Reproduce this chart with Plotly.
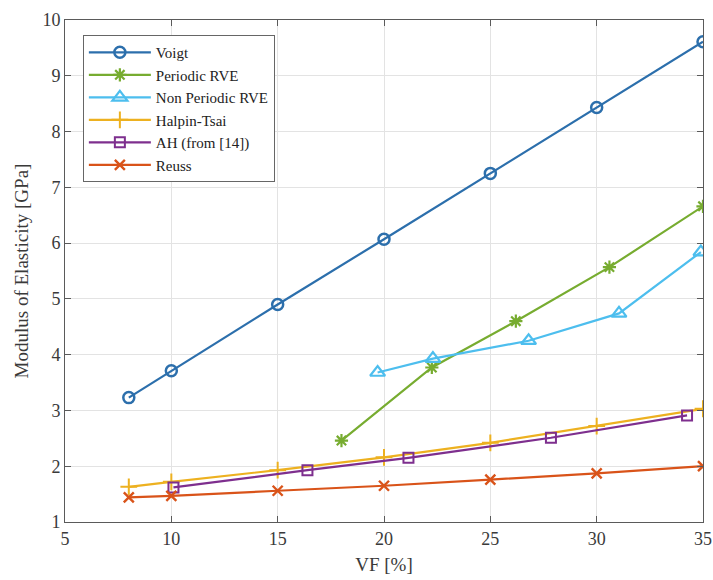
import plotly.graph_objects as go

# Data
voigt_x = [8, 10, 15, 20, 25, 30, 35]
voigt_y = [3.23, 3.71, 4.9, 6.07, 7.25, 8.43, 9.61]

periodic_x = [18.0, 22.25, 26.2, 30.6, 35.0]
periodic_y = [2.46, 3.77, 4.6, 5.57, 6.66]

nonper_x = [19.7, 22.3, 26.8, 31.05, 34.9]
nonper_y = [3.68, 3.93, 4.25, 4.74, 5.84]

halpin_x = [8, 10, 15, 20, 25, 30, 35]
halpin_y = [1.63, 1.72, 1.93, 2.16, 2.42, 2.72, 3.03]

ah_x = [10.1, 16.4, 21.15, 27.85, 34.25]
ah_y = [1.62, 1.93, 2.15, 2.51, 2.91]

reuss_x = [8, 10, 15, 20, 25, 30, 35]
reuss_y = [1.44, 1.47, 1.56, 1.65, 1.76, 1.87, 2.0]

series = [
    ("Voigt", voigt_x, voigt_y, "#2C6FAC", "circle-open", 11, 2.5),
    ("Periodic RVE", periodic_x, periodic_y, "#77AC30", "asterisk-open", 11, 2.2),
    ("Non Periodic RVE", nonper_x, nonper_y, "#4DBEEE", "triangle-up-open", 13, 2.2),
    ("Halpin-Tsai", halpin_x, halpin_y, "#EDB120", "cross-thin-open", 12, 2.0),
    ("AH (from [14])", ah_x, ah_y, "#7E2F8E", "square-open", 10, 2.0),
    ("Reuss", reuss_x, reuss_y, "#D95319", "x-thin-open", 10, 2.4),
]

fig = go.Figure()
for name, xs, ys, col, sym, size, lw in series:
    fig.add_trace(go.Scatter(
        x=xs, y=ys, name=name, mode="lines+markers",
        line=dict(color=col, width=2.2),
        marker=dict(symbol=sym, size=size, color=col,
                    line=dict(color=col, width=lw)),
    ))

font_family = "Liberation Serif"
axis_common = dict(
    showgrid=True, gridcolor="#e3e3e3", gridwidth=1,
    showline=True, linecolor="#5a5a5a", linewidth=1, mirror="ticks",
    ticks="inside", ticklen=6, tickcolor="#5a5a5a",
    tickfont=dict(family=font_family, size=18, color="#3a3a3a"),
    zeroline=False, automargin=False,
)

fig.update_layout(
    width=713, height=580,
    margin=dict(l=65, r=10, t=20, b=58),
    paper_bgcolor="white", plot_bgcolor="white",
    font=dict(family=font_family, size=17, color="#3a3a3a"),
    xaxis=dict(range=[5, 35], dtick=5,
               title=dict(text="VF [%]", font=dict(family=font_family, size=19, color="#3a3a3a"), standoff=10),
               **axis_common),
    yaxis=dict(range=[1, 10], dtick=1,
               title=dict(text="Modulus of Elasticity [GPa]", font=dict(family=font_family, size=19, color="#3a3a3a"), standoff=8),
               **axis_common),
    legend=dict(x=0.028, y=0.97, xanchor="left", yanchor="top",
                bgcolor="white", bordercolor="#666666", borderwidth=1,
                font=dict(family=font_family, size=15, color="#222222"),
                tracegroupgap=0, itemwidth=62),
    showlegend=True,
)

fig.write_html("out.html",
               config={"displayModeBar": False},
               post_script="document.body.style.margin='0px';document.body.style.overflow='hidden';")
